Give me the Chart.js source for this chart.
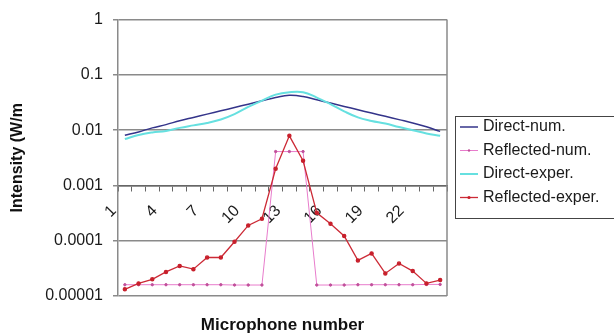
<!DOCTYPE html>
<html>
<head>
<meta charset="utf-8">
<script src="https://cdn.jsdelivr.net/npm/chart.js@4.4.0/dist/chart.umd.min.js"></script>
<style>
  html, body { margin: 0; padding: 0; background: #fff; }
</style>
</head>
<body>
<canvas id="chart" width="614" height="336"></canvas>
<script>
// microphone numbers 1..24
const mics = ['1','2','3','4','5','6','7','8','9','10','11','12','13','14','15','16','17','18','19','20','21','22','23','24'];

const directNum = [0.0081, 0.0093, 0.0110, 0.0126, 0.0148, 0.0170, 0.0195, 0.0224, 0.0257, 0.0295, 0.0339, 0.0389,
                   0.0427, 0.0407, 0.0355, 0.0309, 0.0269, 0.0234, 0.0204, 0.0178, 0.0155, 0.0135, 0.0115, 0.0095];
const reflectedNum = [0.000016, 0.000016, 0.000016, 0.000016, 0.000016, 0.000016, 0.000016, 0.000016, 0.0000158, 0.0000158, 0.0000158,
                      0.0041, 0.0041, 0.0041,
                      0.0000158, 0.0000158, 0.0000158, 0.000016, 0.000016, 0.000016, 0.000016, 0.000016, 0.0000162, 0.0000162];
const directExper = [0.0069, 0.0082, 0.0091, 0.0097, 0.0110, 0.0122, 0.0135, 0.0156, 0.0195, 0.0263, 0.0342, 0.0439,
                     0.0486, 0.0486, 0.0389, 0.0295, 0.0219, 0.0170, 0.0147, 0.0132, 0.0114, 0.0100, 0.0087, 0.0079];
const reflectedExper = [0.0000132, 0.0000169, 0.000020, 0.0000273, 0.000035, 0.0000306, 0.0000497, 0.0000497, 0.000096, 0.000189, 0.00025,
                        0.0020, 0.0079, 0.0028, 0.00032, 0.000203, 0.000122, 0.000044, 0.000059, 0.0000256, 0.0000387, 0.0000282, 0.0000169, 0.0000194];

const yTicks = [0.00001, 0.0001, 0.001, 0.01, 0.1, 1];
const yTickLabels = ['0.00001', '0.0001', '0.001', '0.01', '0.1', '1'];

const FONT = 'Arial, "Liberation Sans", sans-serif';

// legend box + right border of the plot
const extras = {
    id: 'extras',
    afterDraw(chart) {
        const ctx = chart.ctx;
        const a = chart.chartArea;
        ctx.save();
        ctx.strokeStyle = '#8a8a8a';
        ctx.lineWidth = 1.5;
        ctx.beginPath();
        ctx.moveTo(a.right, a.top);
        ctx.lineTo(a.right, a.bottom);
        ctx.stroke();

        ctx.strokeStyle = '#444';
        ctx.lineWidth = 1;
        ctx.strokeRect(455.5, 116.5, 170, 102);

        ctx.font = '16px ' + FONT;
        ctx.textBaseline = 'middle';
        chart.data.datasets.forEach((ds, i) => {
            const y = 127 + i * 23.5;
            ctx.strokeStyle = ds.borderColor;
            ctx.lineWidth = ds.borderWidth;
            ctx.beginPath();
            ctx.moveTo(460, y);
            ctx.lineTo(478, y);
            ctx.stroke();
            if (ds.pointRadius > 0) {
                ctx.fillStyle = ds.pointBackgroundColor;
                ctx.beginPath();
                ctx.arc(469, y, ds.pointRadius, 0, Math.PI * 2);
                ctx.fill();
            }
            ctx.fillStyle = '#1a1a1a';
            ctx.fillText(ds.label, 483, y);
        });
        ctx.restore();
    }
};

new Chart(document.getElementById('chart').getContext('2d'), {
    type: 'line',
    data: {
        labels: mics,
        datasets: [{
            label: 'Direct-num.',
            data: directNum,
            borderColor: '#34348a',
            borderWidth: 1.5,
            pointRadius: 0,
            tension: 0.4,
            order: 3
        }, {
            label: 'Reflected-num.',
            data: reflectedNum,
            borderColor: '#e87ccc',
            pointBackgroundColor: '#c0509a',
            pointBorderColor: '#c0509a',
            borderWidth: 1,
            pointRadius: 1.2,
            tension: 0,
            order: 2
        }, {
            label: 'Direct-exper.',
            data: directExper,
            borderColor: '#66e0e0',
            borderWidth: 2,
            pointRadius: 0,
            tension: 0.4,
            order: 1
        }, {
            label: 'Reflected-exper.',
            data: reflectedExper,
            borderColor: '#cc2a36',
            pointBackgroundColor: '#c8202c',
            pointBorderColor: '#c8202c',
            borderWidth: 1.3,
            pointRadius: 1.6,
            tension: 0,
            order: 0
        }]
    },
    options: {
        responsive: false,
        animation: false,
        layout: {
            padding: { left: 0, right: 167, top: 18, bottom: 0 }
        },
        plugins: {
            legend: { display: false },
            tooltip: { enabled: false },
            title: {
                display: true,
                position: 'bottom',
                fullSize: false,
                text: 'Microphone number',
                color: '#111',
                font: { family: FONT, size: 17, weight: 'bold' },
                padding: { top: 19.6, bottom: 0 }
            }
        },
        scales: {
            x: {
                type: 'category',
                offset: true,
                position: { y: 0.001 },
                grid: {
                    offset: true,
                    drawOnChartArea: false,
                    drawTicks: true,
                    tickLength: 5,
                    color: '#666'
                },
                border: { display: true, color: '#666', width: 1.5 },
                ticks: {
                    autoSkip: false,
                    maxRotation: 45,
                    minRotation: 45,
                    padding: 11,
                    labelOffset: -11,
                    color: '#1a1a1a',
                    font: { family: FONT, size: 16 },
                    callback: (v, i) => (i % 3 === 0 ? mics[i] : '')
                }
            },
            y: {
                type: 'logarithmic',
                min: 0.00001,
                max: 1,
                afterBuildTicks: (scale) => {
                    scale.ticks = yTicks.map(v => ({ value: v }));
                },
                afterFit: (scale) => {
                    scale.width = 118;
                },
                grid: {
                    color: '#8a8a8a',
                    lineWidth: 1.5,
                    drawTicks: true,
                    tickLength: 5
                },
                border: { display: true, color: '#8a8a8a', width: 1.5 },
                ticks: {
                    padding: 10,
                    color: '#1a1a1a',
                    font: { family: FONT, size: 16 },
                    callback: (v) => yTickLabels[yTicks.findIndex(t => Math.abs(Math.log10(t) - Math.log10(v)) < 1e-6)]
                },
                title: {
                    display: true,
                    text: 'Intensity (W/m',
                    color: '#111',
                    font: { family: FONT, size: 16, weight: 'bold' },
                    padding: { top: 7.5, bottom: 0 }
                }
            }
        }
    },
    plugins: [extras]
});
</script>
</body>
</html>
